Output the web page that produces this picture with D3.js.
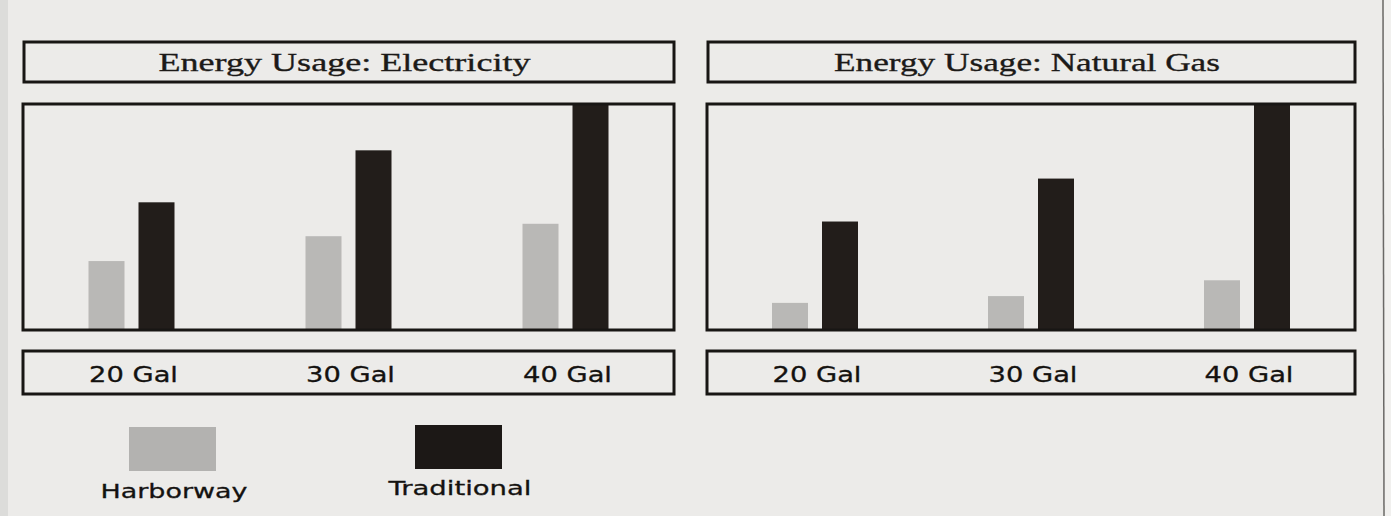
<!DOCTYPE html>
<html>
<head>
<meta charset="utf-8">
<script src="https://cdn.jsdelivr.net/npm/d3@7"></script>
<style>
	html, body { margin: 0; padding: 0; background: #ebebe9; }
	svg { display: block; }
</style>
</head>
<body>
<script>
// chart data
var categories = ['20 Gal', '30 Gal', '40 Gal'];
var seriesNames = ['Harborway', 'Traditional'];
var panelTitles = ['Energy Usage: Electricity', 'Energy Usage: Natural Gas'];
var electricityHarborway = [30.5, 41.5, 47];
var electricityTraditional = [56.5, 79.5, 100];
var gasHarborway = [12, 15, 22];
var gasTraditional = [48, 67, 100];

var width = 1391, height = 516;
var colors = { Harborway: '#b9b8b6', Traditional: '#221d1a' };
var legendColors = { Harborway: '#b3b2b0', Traditional: '#1c1816' };

// the photo of the page is a little stretched sideways, so is the text
function stretch(sel, k) {
	sel.each(function() {
		var w = this.getComputedTextLength();
		d3.select(this)
			.attr('textLength', w * k)
			.attr('lengthAdjust', 'spacingAndGlyphs');
	});
}

var svg = d3.select('body')
	.append('svg')
		.attr('width', width)
		.attr('height', height);

// paper background and page edges
svg.append('rect')
	.attr('width', width)
	.attr('height', height)
	.attr('fill', '#ecebe9');
svg.append('rect')
	.attr('width', 8)
	.attr('height', height)
	.attr('fill', '#dcdcda');
svg.append('rect')
	.attr('x', 1383)
	.attr('width', width - 1383)
	.attr('height', height)
	.attr('fill', '#f1f0ee');
svg.append('line')
	.attr('x1', 1383).attr('x2', 1384)
	.attr('y1', 0).attr('y2', height)
	.attr('stroke', '#6a6866')
	.attr('stroke-width', 1.5);

function drawPanel(x0, x1, title, titleWidth, harborway, traditional) {
	var g = svg.append('g');
	var rows = categories.map(function(c, i) {
		return { category: c, Harborway: harborway[i], Traditional: traditional[i] };
	});

	var x = d3.scaleBand()
		.domain(categories)
		.range([x0, x1])
		.padding(0);
	var xInner = d3.scaleBand()
		.domain(seriesNames)
		.range([-43, 43])
		.paddingInner(0.28);
	var y = d3.scaleLinear()
		.domain([0, 100])
		.range([330, 104]);

	// title box
	g.append('rect')
		.attr('x', x0 + 1).attr('y', 42)
		.attr('width', x1 - x0 - 1).attr('height', 40)
		.attr('fill', 'none')
		.attr('stroke', '#181614')
		.attr('stroke-width', 3);
	g.append('text')
		.attr('x', (x0 + x1) / 2 - 4)
		.attr('y', 71)
		.attr('text-anchor', 'middle')
		.attr('font-family', '"Liberation Serif", serif')
		.attr('font-size', 26)
		.attr('fill', '#1c1a18')
		.attr('stroke', '#1c1a18')
		.attr('stroke-width', 0.35)
		.attr('textLength', titleWidth)
		.attr('lengthAdjust', 'spacingAndGlyphs')
		.text(title);

	// bars
	var groups = g.selectAll('.group')
		.data(rows)
		.enter().append('g')
			.attr('class', 'group')
			.attr('transform', function(d) {
				return 'translate(' + (x(d.category) + x.bandwidth() / 2) + ',0)';
			});
	groups.selectAll('rect')
		.data(function(d) {
			return seriesNames.map(function(s) { return { key: s, value: d[s] }; });
		})
		.enter().append('rect')
			.attr('x', function(d) { return xInner(d.key); })
			.attr('y', function(d) { return y(d.value); })
			.attr('width', xInner.bandwidth())
			.attr('height', function(d) { return y(0) - y(d.value); })
			.attr('fill', function(d) { return colors[d.key]; });

	// plot frame
	g.append('rect')
		.attr('x', x0).attr('y', 104)
		.attr('width', x1 - x0).attr('height', 226)
		.attr('fill', 'none')
		.attr('stroke', '#181614')
		.attr('stroke-width', 3);

	// category axis box
	g.append('rect')
		.attr('x', x0).attr('y', 351)
		.attr('width', x1 - x0).attr('height', 43)
		.attr('fill', 'none')
		.attr('stroke', '#181614')
		.attr('stroke-width', 3);
	var xAxis = d3.axisBottom(x)
		.tickSize(0)
		.tickSizeOuter(0);
	var axis = g.append('g')
		.attr('class', 'x axis')
		.attr('transform', 'translate(0,364)')
		.call(xAxis);
	axis.select('.domain').remove();
	axis.selectAll('text')
		.attr('dy', '0.88em')
		.attr('y', 0)
		.attr('x', 2)
		.attr('font-family', '"DejaVu Sans", Verdana, sans-serif')
		.attr('font-size', 21)
		.attr('fill', '#141210')
		.attr('stroke', '#141210')
		.attr('stroke-width', 0.3)
		.call(stretch, 1.3);
}

drawPanel(23, 674, panelTitles[0], 372, electricityHarborway, electricityTraditional);
drawPanel(707, 1355, panelTitles[1], 386, gasHarborway, gasTraditional);

// legend
var legendX = d3.scalePoint()
	.domain(seriesNames)
	.range([172, 458]);
var legend = svg.selectAll('.legend')
	.data(seriesNames)
	.enter().append('g')
		.attr('class', 'legend')
		.attr('transform', function(d) { return 'translate(' + legendX(d) + ',0)'; });
legend.append('rect')
	.attr('x', -43)
	.attr('y', function(d, i) { return 427 - i * 2; })
	.attr('width', 87)
	.attr('height', 44)
	.attr('fill', function(d) { return legendColors[d]; });
legend.append('text')
	.attr('x', 2)
	.attr('y', function(d, i) { return 498 - i * 3; })
	.attr('text-anchor', 'middle')
	.attr('font-family', '"DejaVu Sans", Verdana, sans-serif')
	.attr('font-size', 20)
	.attr('fill', '#141210')
	.attr('stroke', '#141210')
	.attr('stroke-width', 0.3)
	.attr('textLength', function(d) { return d === 'Harborway' ? 147 : 143; })
	.attr('lengthAdjust', 'spacingAndGlyphs')
	.text(function(d) { return d; });
</script>
</body>
</html>
